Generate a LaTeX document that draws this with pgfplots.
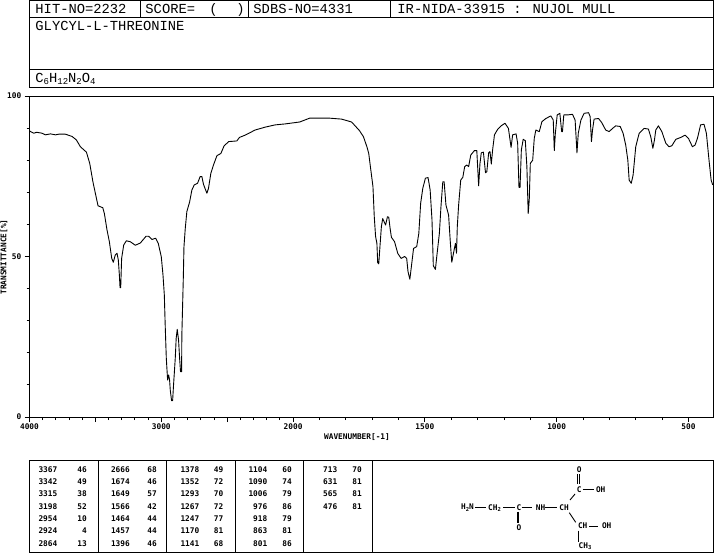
\documentclass[border=0pt]{standalone}
\usepackage{fontspec}
\usepackage{pgfplots}
\usepackage{pgfplotstable}
\pgfplotsset{compat=1.18}
\setmainfont{Liberation Mono}
\newfontfamily\dvfont{DejaVu Sans Mono Bold}
\newcommand{\hdr}{\fontsize{13.8}{14}\selectfont}
\newcommand{\lab}{\dvfont\fontsize{7.8}{8}\selectfont}

% wavenumber, transmittance
\pgfplotstableread{
4000 89.1
3967 88.4
3947 88.7
3904 88.4
3879 87.9
3841 88.2
3803 87.9
3778 88.1
3727 88.1
3677 87.4
3644 86.3
3614 84.2
3568 82.5
3543 79.0
3518 73.1
3492 68.1
3480 65.8
3444 65.2
3432 63.4
3412 58.3
3394 54.6
3376 49.4
3364 48.2
3349 50.5
3336 51.0
3326 48.9
3318 44.2
3313 40.3
3308 40.3
3301 49.4
3285 53.6
3265 54.9
3235 54.6
3197 53.5
3159 54.2
3116 56.3
3096 56.3
3071 55.3
3043 55.7
3023 54.1
3000 49.9
2987 44.2
2977 38.0
2970 28.1
2962 18.3
2952 11.5
2944 13.1
2937 11.5
2932 8.4
2922 5.1
2914 5.1
2907 10.0
2894 18.3
2887 24.5
2879 27.3
2869 24.0
2861 18.3
2854 14.1
2846 14.1
2844 25.5
2833 43.2
2828 53.0
2818 58.8
2806 64.0
2785 67.0
2768 70.7
2750 72.3
2725 72.8
2705 74.9
2692 74.9
2680 72.5
2654 69.7
2642 71.2
2624 75.9
2604 78.5
2578 81.4
2548 82.1
2523 84.5
2488 85.8
2427 86.0
2407 87.1
2364 87.8
2288 89.4
2212 90.3
2136 91.0
2061 91.3
1975 91.9
1937 93.1
1862 93.1
1816 92.8
1778 91.9
1748 89.2
1733 87.3
1720 84.2
1713 82.1
1705 76.9
1697 71.8
1692 62.4
1687 56.2
1682 54.1
1679 48.1
1675 47.7
1670 53.6
1665 59.3
1660 61.8
1655 60.9
1649 59.8
1642 62.4
1637 62.2
1632 58.8
1627 56.0
1615 54.6
1603 51.0
1590 49.4
1577 50.0
1569 49.4
1564 45.3
1557 42.9
1552 46.3
1543 52.5
1531 53.1
1523 57.2
1516 66.6
1508 71.2
1498 74.4
1488 74.6
1480 70.7
1473 61.4
1468 47.1
1460 46.0
1455 49.9
1445 57.2
1439 65.5
1432 73.3
1427 73.3
1420 66.0
1410 62.9
1404 55.1
1398 48.2
1388 52.5
1384 54.1
1380 51.0
1377 59.3
1372 66.0
1364 73.8
1356 74.7
1349 78.0
1341 78.5
1334 78.0
1326 81.6
1312 83.0
1303 83.0
1296 72.0
1291 79.0
1286 82.3
1278 82.5
1270 76.1
1265 76.4
1258 82.3
1253 82.7
1248 78.8
1243 83.2
1236 87.9
1224 89.6
1211 90.7
1196 91.5
1183 89.9
1173 84.0
1167 87.9
1154 88.2
1148 85.3
1143 71.5
1139 71.5
1134 83.2
1127 86.5
1119 86.1
1113 78.0
1108 63.4
1104 67.6
1100 79.0
1091 80.0
1085 86.8
1079 89.4
1066 88.9
1056 92.0
1041 93.0
1022 93.8
1013 92.5
1009 83.0
1005 88.4
998 94.1
988 94.6
981 88.9
978 88.9
973 94.1
959 94.1
940 94.3
930 92.5
923 82.3
918 88.4
908 92.5
896 94.6
879 94.8
873 93.6
868 85.8
864 89.4
858 92.8
841 93.0
829 91.7
814 89.4
801 88.9
788 89.9
776 90.7
759 90.5
748 88.4
738 84.7
730 80.0
725 73.8
717 72.8
710 75.4
700 84.2
687 88.4
668 89.9
652 89.7
643 87.3
635 83.7
629 86.3
624 89.4
614 90.7
601 88.9
586 85.3
574 84.2
563 84.5
548 86.5
529 87.1
513 87.8
500 86.8
485 84.2
475 84.7
466 86.8
454 91.0
441 91.2
432 88.4
422 80.0
414 73.8
408 72.3
}\spectrum

\begin{document}
\begin{tikzpicture}[x=1pt,y=-1pt,line width=0.9pt]
\useasboundingbox (0,0) rectangle (715,553);

% header boxes
\draw (29.5,0.5) rectangle (713.5,87);
\draw (29.5,17) -- (713.5,17);
\draw (29.5,69.5) -- (713.5,69.5);
\foreach \x in {140.5,248.5,390.5} \draw (\x,0.5) -- (\x,17);
\begin{scope}[every node/.style={anchor=base west,inner sep=0pt,font=\hdr}]
\node at (35,13.5) {HIT-NO=2232};
\node at (145,13.5) {SCORE=};
\node at (209,13.5) {(};
\node at (236,13.5) {)};
\node at (253,13.5) {SDBS-NO=4331};
\node at (397,13.5) {IR-NIDA-33915 : NUJOL MULL};
\node at (35,31) {GLYCYL-L-THREONINE};
\node at (35,83) {C\raisebox{-2pt}{\fontsize{9}{9}\selectfont 6}H\raisebox{-2pt}{\fontsize{9}{9}\selectfont 12}N\raisebox{-2pt}{\fontsize{9}{9}\selectfont 2}O\raisebox{-2pt}{\fontsize{9}{9}\selectfont 4}};
\end{scope}

\begin{axis}[
    at={(29.5pt,-417pt)}, anchor=south west,
    scale only axis, width=684pt, height=321pt,
    % 4000-2000 is drawn at half the scale of 2000-400
    x coord trafo/.code={\pgfmathparse{#1>=2000?(4000-#1)/2:3000-#1}},
    xmin=4000, xmax=405,
    ymin=0, ymax=100,
    axis line style={line width=0.9pt},
    tick style={black,line width=0.9pt},
    tick align=outside,
    xtick pos=bottom, ytick pos=left,
    major tick length=5pt, minor tick length=3pt,
    xtick={4000,3500,3000,2500,2000,1500,1000,500},
    xticklabels={4000,,3000,,2000,1500,1000,500},
    minor xtick={3900,3800,3700,3600,3400,3300,3200,3100,2900,2800,2700,2600,2400,2300,2200,2100,1900,1800,1700,1600,1400,1300,1200,1100,900,800,700,600},
    ytick={0,50,100},
    yticklabels={0,50,100},
    minor ytick={10,20,30,40,60,70,80,90},
    ticklabel style={font=\lab,inner sep=1pt},
    xticklabel style={yshift=-1pt},
    yticklabel style={xshift=-2pt},
]
\addplot[black,line width=0.9pt,line join=round] table {\spectrum};
\end{axis}

\node[rotate=90,inner sep=0pt,font=\lab] at (4,257) {TRANSMITTANCE[\%]};
\node[inner sep=0pt,font=\lab] at (357,437) {WAVENUMBER[-1]};

% peak table
\draw (29.5,460.5) rectangle (713.5,552);
\foreach \x in {98.5,166.5,235.5,303.5,372.5} \draw (\x,460.5) -- (\x,552);
\begin{scope}[every node/.style={anchor=east,inner sep=0pt,font=\lab}]
\newcommand{\rw}[5]{\node at (#1,#3) {#4}; \node at (#2,#3) {#5};}
\foreach \y/\a/\b in {469.5/3367/46,481.8/3342/49,494.1/3315/38,506.4/3198/52,518.7/2954/10,531/2924/4,543.3/2864/13} {\rw{57.5}{87}{\y}{\a}{\b}}
\foreach \y/\a/\b in {469.5/2666/68,481.8/1674/46,494.1/1649/57,506.4/1566/42,518.7/1464/44,531/1457/44,543.3/1396/46} {\rw{130}{157}{\y}{\a}{\b}}
\foreach \y/\a/\b in {469.5/1378/49,481.8/1352/72,494.1/1293/70,506.4/1267/72,518.7/1247/77,531/1170/81,543.3/1141/68} {\rw{199.5}{223.5}{\y}{\a}{\b}}
\foreach \y/\a/\b in {469.5/1104/60,481.8/1090/74,494.1/1006/79,506.4/976/86,518.7/918/79,531/863/81,543.3/801/86} {\rw{267.5}{292}{\y}{\a}{\b}}
\foreach \y/\a/\b in {469.5/713/70,481.8/631/81,494.1/565/81,506.4/476/81} {\rw{337.5}{362}{\y}{\a}{\b}}
\end{scope}

% structure
\begin{scope}[every node/.style={inner sep=0pt,font=\lab}]
\node at (467.5,507.7) {H\raisebox{-1.5pt}{\fontsize{5.5}{6}\selectfont 2}N};
\node at (494.5,508) {CH\raisebox{-1.5pt}{\fontsize{5.5}{6}\selectfont 2}};
\node at (519,507.7) {C};
\node at (540.5,507.7) {NH};
\node at (564,507.7) {CH};
\node at (579.3,489.5) {C};
\node at (579.3,470) {O};
\node at (600.7,489.5) {OH};
\node at (519,527.3) {O};
\node at (582.7,526) {CH};
\node at (606.7,526) {OH};
\node at (585,546) {CH\raisebox{-1.5pt}{\fontsize{5.5}{6}\selectfont 3}};
\end{scope}
\draw (475,507.7) -- (485.7,507.7);
\draw (503.3,507.7) -- (515,507.7);
\draw (521.7,507.7) -- (532.3,507.7);
\draw (545,507.7) -- (557.3,507.7);
\draw (570,500) -- (575,494);
\draw (577.4,484) -- (577.4,473.5);
\draw (579.4,484) -- (579.4,473.5);
\draw (582.7,489.5) -- (594,489.5);
\draw[line width=1.8pt] (518.3,511.7) -- (518.3,523.3);
\draw (569.3,512.7) -- (575.7,522.3);
\draw (589,526) -- (598.3,526);
\draw (578.3,530.7) -- (578.3,542.3);
\end{tikzpicture}
\end{document}
